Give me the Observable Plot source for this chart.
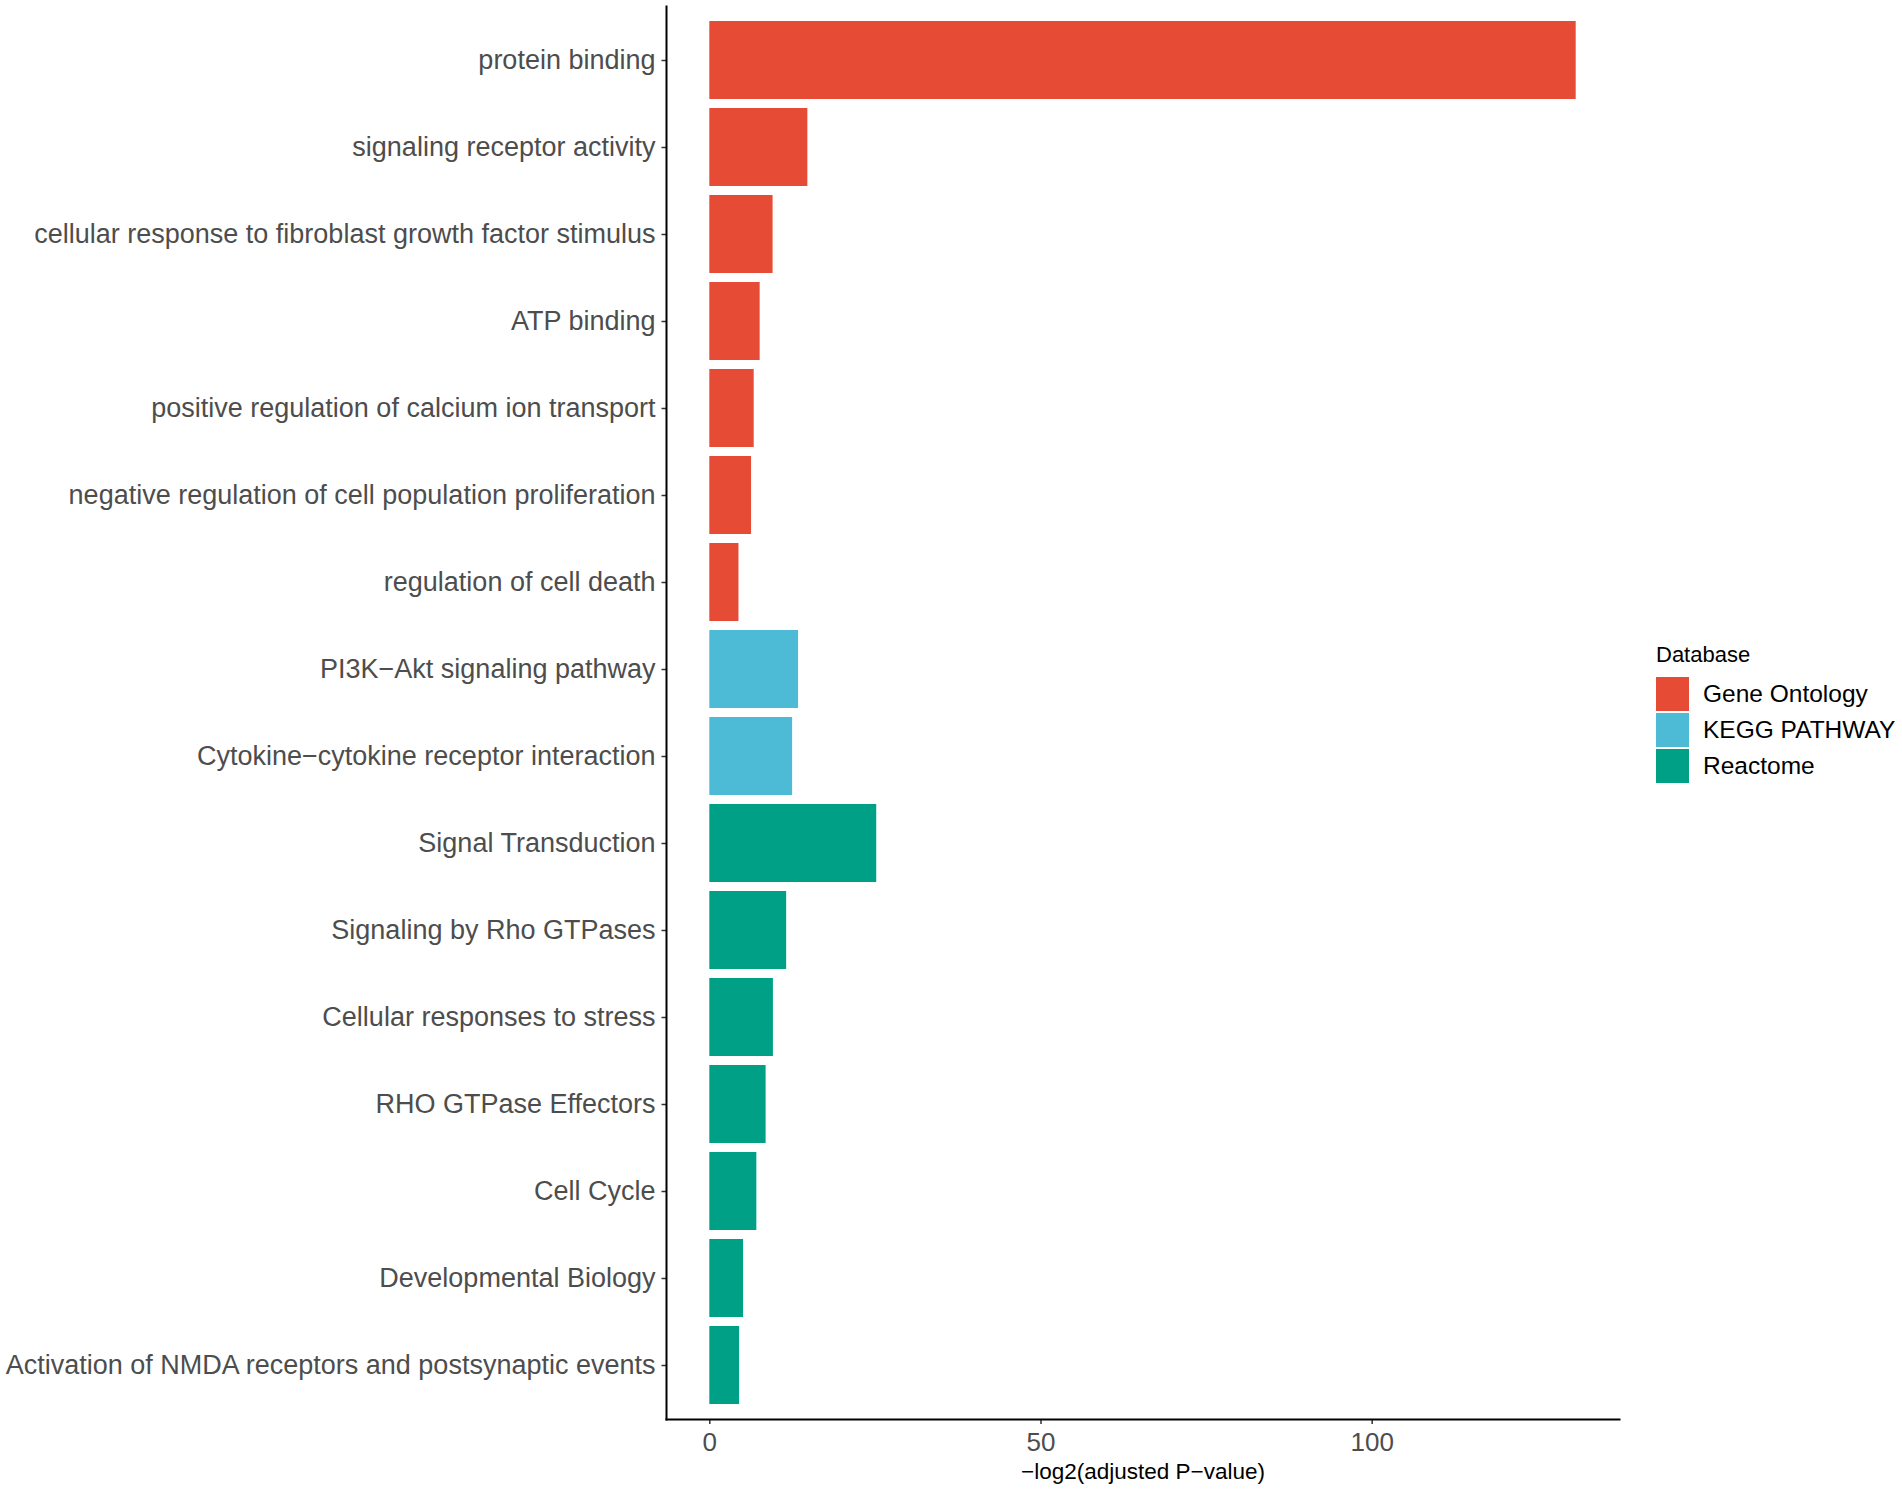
<!DOCTYPE html>
<html>
<head>
<meta charset="utf-8">
<script src="https://cdn.jsdelivr.net/npm/d3@7"></script>
<script src="https://cdn.jsdelivr.net/npm/@observablehq/plot@0.6"></script>
<style>
  html, body { margin: 0; padding: 0; background: #ffffff; }
  #wrap { position: relative; width: 1902px; height: 1490px; background: #ffffff; font-family: "Liberation Sans", Arial, Helvetica, sans-serif; }
  #chart { position: absolute; left: 0; top: 0; }
  #legend { position: absolute; left: 1656px; top: 638px; }
  #legend .title { font-size: 22px; color: #000; height: 38px; line-height: 34px; }
  #legend .row { display: flex; align-items: center; height: 36px; }
  #legend .key { width: 33px; height: 34px; margin-right: 14px; }
  #legend .lab { font-size: 24.5px; color: #000; white-space: nowrap; }
</style>
</head>
<body>
<div id="wrap">
  <div id="chart"></div>
  <div id="legend"></div>
</div>
<script>
// Categories (top to bottom)
const terms = [
  "protein binding",
  "signaling receptor activity",
  "cellular response to fibroblast growth factor stimulus",
  "ATP binding",
  "positive regulation of calcium ion transport",
  "negative regulation of cell population proliferation",
  "regulation of cell death",
  "PI3K\u2212Akt signaling pathway",
  "Cytokine\u2212cytokine receptor interaction",
  "Signal Transduction",
  "Signaling by Rho GTPases",
  "Cellular responses to stress",
  "RHO GTPase Effectors",
  "Cell Cycle",
  "Developmental Biology",
  "Activation of NMDA receptors and postsynaptic events"
];
// -log2(adjusted P-value)
const values = [130.8, 14.8, 9.55, 7.6, 6.7, 6.3, 4.4, 13.4, 12.5, 25.2, 11.6, 9.6, 8.5, 7.1, 5.1, 4.5];
// Database of each term
const databases = [
  "Gene Ontology", "Gene Ontology", "Gene Ontology", "Gene Ontology",
  "Gene Ontology", "Gene Ontology", "Gene Ontology",
  "KEGG PATHWAY", "KEGG PATHWAY",
  "Reactome", "Reactome", "Reactome", "Reactome", "Reactome", "Reactome", "Reactome"
];
const dbNames = ["Gene Ontology", "KEGG PATHWAY", "Reactome"];
const dbColors = ["#E64B35", "#4DBBD5", "#00A087"];
const xTicks = [0, 50, 100];
const xTitle = ["\u2212log2(adjusted P\u2212value)"];
const legendTitle = "Database";

const data = terms.map((t, i) => ({term: t, value: values[i], db: databases[i]}));

const maxV = d3.max(values);
const pad = maxV * 0.05;

const chart = Plot.plot({
  width: 1640,
  height: 1490,
  marginLeft: 666,
  marginRight: 21,
  marginTop: 6,
  marginBottom: 71,
  style: {fontFamily: "'Liberation Sans', Arial, Helvetica, sans-serif", background: "#ffffff", overflow: "visible"},
  x: {domain: [0 - pad, maxV + pad]},
  y: {domain: terms, paddingInner: 0.1, paddingOuter: 0.15},
  color: {domain: dbNames, range: dbColors},
  marks: [
    Plot.barX(data, {x: "value", y: "term", fill: "db"}),
    Plot.axisY({
      tickSize: 4.5, tickPadding: 6.5, fontSize: 27,
      fill: "#4D4D4D", stroke: "#333333", strokeWidth: 1.5, label: null
    }),
    Plot.axisX({
      ticks: xTicks, tickSize: 5, tickPadding: 8, fontSize: 26,
      fill: "#4D4D4D", stroke: "#333333", strokeWidth: 1.5, label: null
    }),
    Plot.frame({anchor: "left", stroke: "#000000", strokeWidth: 2}),
    Plot.frame({anchor: "bottom", stroke: "#000000", strokeWidth: 2}),
    Plot.text(xTitle, {frameAnchor: "bottom", dy: 59, fontSize: 22.5, fill: "#000000"})
  ]
});
document.getElementById("chart").appendChild(chart);

// Legend
const lg = document.getElementById("legend");
const tt = document.createElement("div");
tt.className = "title";
tt.textContent = legendTitle;
lg.appendChild(tt);
dbNames.forEach((n, i) => {
  const row = document.createElement("div");
  row.className = "row";
  const k = document.createElement("div");
  k.className = "key";
  k.style.background = dbColors[i];
  const l = document.createElement("div");
  l.className = "lab";
  l.textContent = n;
  row.appendChild(k);
  row.appendChild(l);
  lg.appendChild(row);
});
</script>
</body>
</html>
